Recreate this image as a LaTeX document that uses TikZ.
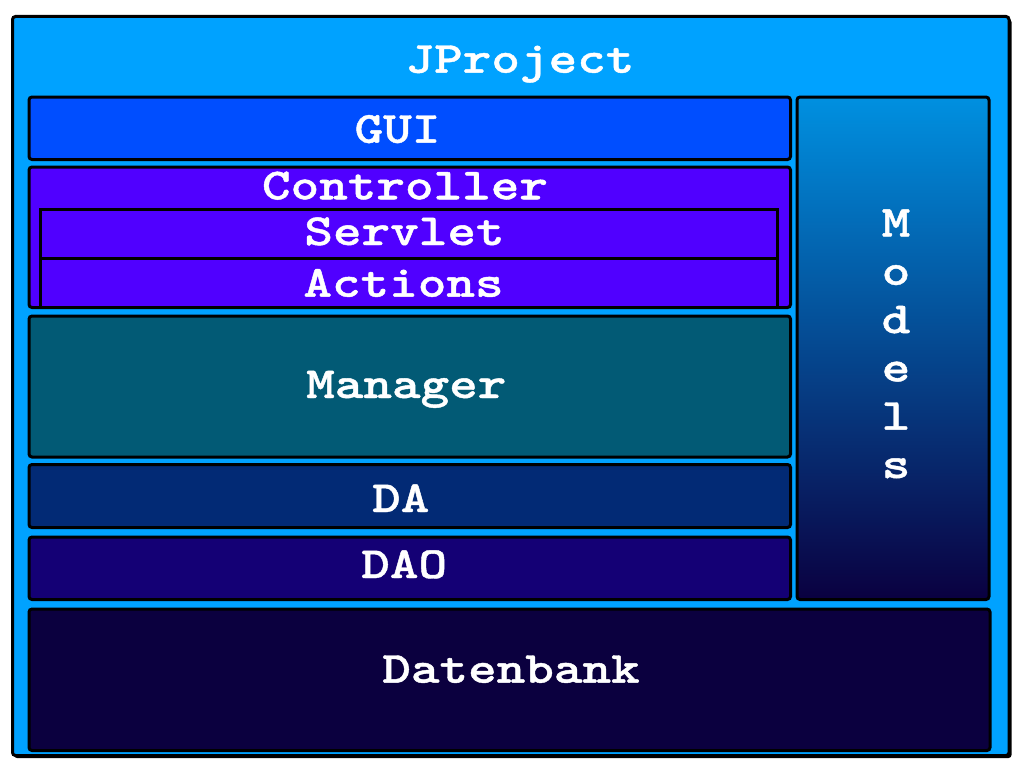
\documentclass[tikz,border=0pt]{standalone}
\usepackage{fontspec}
\newfontfamily\courb{lmmonolt10-bold.otf}[FakeStretch=1.224,FakeBold=1]
\definecolor{outerbg}{HTML}{00A2FF}
\definecolor{guic}{HTML}{004EFF}
\definecolor{ctrlc}{HTML}{5000FF}
\definecolor{mgrc}{HTML}{025A75}
\definecolor{dac}{HTML}{022A75}
\definecolor{daoc}{HTML}{140075}
\definecolor{dbc}{HTML}{0B003F}
\definecolor{mtop}{HTML}{0090E0}
\definecolor{mbot}{HTML}{0A0040}
\begin{document}
\begin{tikzpicture}[x=1pt,y=-1pt,
  layerbox/.style={draw=black, line width=3pt, rounded corners=3pt, inner sep=0pt, outer sep=0pt},
  lbl/.style={text=white, font=\courb\fontsize{44.5}{48.3}\selectfont, inner sep=0pt, anchor=base}]
\useasboundingbox (0,0) rectangle (1024,768);
\fill[white] (0,0) rectangle (1024,768);
\fill[black, rounded corners=3pt] (14,19) rectangle (1011.5,758);
\node[layerbox, fill=outerbg, minimum width=996.5pt, minimum height=739pt] (outer) at (510.75,386) {};
\node[layerbox, fill=guic, minimum width=761.5pt, minimum height=62.5pt] (gui) at (409.75,128.25) {};
\node[layerbox, fill=ctrlc, minimum width=761.5pt, minimum height=140.5pt] (ctrl) at (409.75,237.25) {};
\node[layerbox, fill=ctrlc, rounded corners=0pt, minimum width=736.5pt, minimum height=48.5pt] (servlet) at (408.75,233.75) {};
\node[layerbox, fill=ctrlc, rounded corners=0pt, minimum width=736.5pt, minimum height=49pt] (actions) at (408.75,282.5) {};
\node[layerbox, fill=mgrc, minimum width=761.5pt, minimum height=141pt] (mgr) at (409.75,386.5) {};
\node[layerbox, fill=dac, minimum width=761.5pt, minimum height=63pt] (da) at (409.75,496) {};
\node[layerbox, fill=daoc, minimum width=761.5pt, minimum height=62.5pt] (dao) at (409.75,568.25) {};
\node[layerbox, top color=mtop, bottom color=mbot, minimum width=192pt, minimum height=502.5pt] (models) at (893,348.25) {};
\node[layerbox, fill=dbc, minimum width=961pt, minimum height=141.5pt] (db) at (509.5,679.75) {};
\node[lbl] (tjp) at (520,72.7) {JProject};
\node[lbl] (tgui) at (397.5,142.7) {GUI};
\node[lbl] (tctrl) at (405,199.3) {Controller};
\node[lbl] (tserv) at (404.5,245) {Servlet};
\node[lbl] (tact) at (403.5,296.7) {Actions};
\node[lbl] (tmgr) at (406.3,398) {Manager};
\node[lbl] (tda) at (400.8,512) {DA};
\node[lbl] (tdao) at (404.2,578) {DAO};
\node[lbl] (tdb) at (511,682.7) {Datenbank};
\node[lbl, align=center] (tmod) at (896,478) {M\\o\\d\\e\\l\\s};
\end{tikzpicture}
\end{document}
